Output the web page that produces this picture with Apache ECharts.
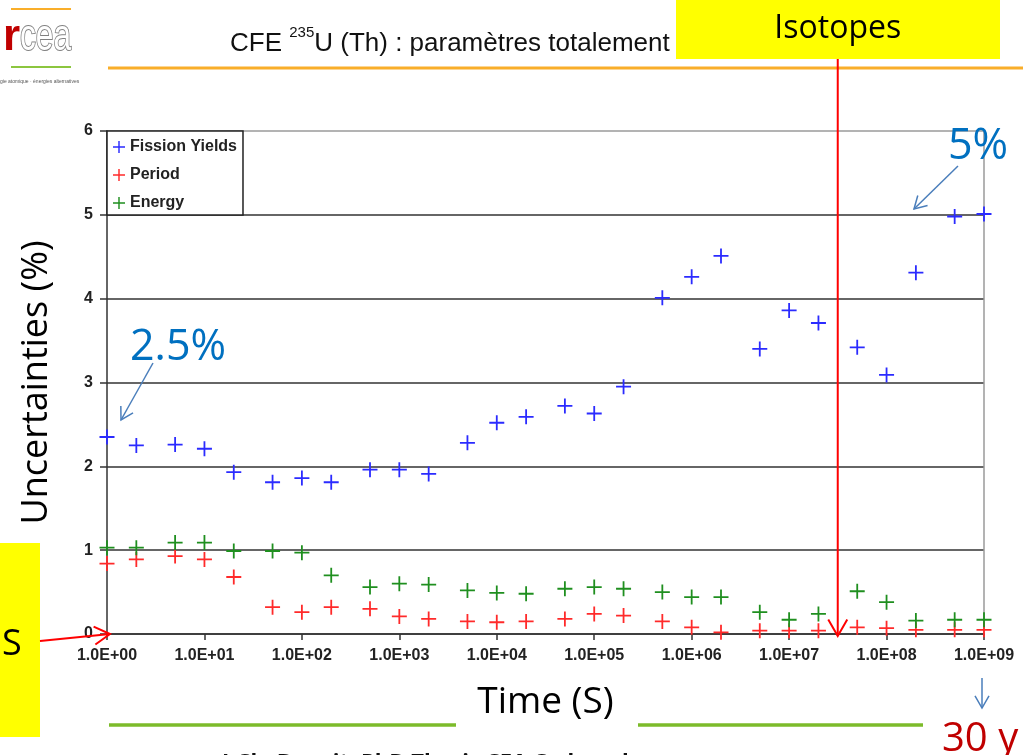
<!DOCTYPE html>
<html>
<head>
<meta charset="utf-8">
<script src="https://cdn.jsdelivr.net/npm/echarts@6/dist/echarts.min.js"></script>
<style>
  html, body { margin: 0; padding: 0; background: #fff; }
  #main { width: 1025px; height: 755px; }
</style>
</head>
<body>
<div id="main"></div>
<script>
// Decay times (s): 1, 2, 5 steps per decade
const timesSeconds = [1, 2, 5, 10, 20, 50, 100, 200, 500, 1e3, 2e3, 5e3, 1e4, 2e4, 5e4,
  1e5, 2e5, 5e5, 1e6, 2e6, 5e6, 1e7, 2e7, 5e7, 1e8, 2e8, 5e8, 1e9];

// Uncertainties (%) per contribution
const fissionYields = [2.35, 2.25, 2.26, 2.21, 1.93, 1.81, 1.86, 1.81, 1.96, 1.96, 1.91, 2.28, 2.52, 2.59, 2.72,
  2.63, 2.95, 4.01, 4.26, 4.51, 3.40, 3.86, 3.71, 3.42, 3.09, 4.31, 4.98, 5.01];
const period = [0.84, 0.89, 0.93, 0.89, 0.68, 0.32, 0.26, 0.32, 0.30, 0.21, 0.18, 0.15, 0.14, 0.15, 0.18,
  0.24, 0.22, 0.15, 0.08, 0.02, 0.04, 0.04, 0.04, 0.08, 0.07, 0.05, 0.05, 0.05];
const energy = [1.03, 1.03, 1.09, 1.09, 0.99, 0.99, 0.97, 0.70, 0.56, 0.60, 0.59, 0.52, 0.49, 0.48, 0.54,
  0.56, 0.54, 0.50, 0.44, 0.44, 0.26, 0.17, 0.24, 0.51, 0.38, 0.16, 0.17, 0.17];

const seriesNames = ['Fission Yields', 'Period', 'Energy'];
const seriesColors = ['#2b2bff', '#ff2a2a', '#1f8f1f'];
const ONE_YEAR_S = 3.156e7;

const PLUS = 'path://M8.8,0h2.4v8.8h8.8v2.4h-8.8v8.8h-2.4v-8.8h-8.8v-2.4h8.8z';
const AXIS_FONT = '"Liberation Sans", Arial, sans-serif';
const SLIDE_FONT = '"Open Sans", sans-serif';

const chart = echarts.init(document.getElementById('main'), null, { renderer: 'canvas' });
const pairs = vals => timesSeconds.map((t, i) => [t, vals[i]]);
const expLabel = v => '1.0E+' + String(Math.round(Math.log10(v))).padStart(2, '0');

chart.setOption({
  animation: false,
  backgroundColor: '#fff',
  grid: { left: 107, right: 41, top: 131, bottom: 121 },
  legend: {
    orient: 'vertical', left: 107, top: 131,
    icon: PLUS, itemWidth: 12, itemHeight: 12, itemGap: 12,
    padding: [8, 6, 4, 6],
    borderColor: '#222', borderWidth: 1.5, backgroundColor: '#fff',
    textStyle: { fontFamily: AXIS_FONT, fontWeight: 'bold', fontSize: 16, lineHeight: 16, color: '#222' },
    data: seriesNames
  },
  xAxis: {
    type: 'log', logBase: 10, min: 1, max: 1e9,
    name: 'Time (S)', nameLocation: 'middle', nameGap: 50,
    nameTextStyle: { fontFamily: SLIDE_FONT, fontSize: 37, color: '#000' },
    axisLine: { lineStyle: { color: '#333', width: 1.5 } },
    axisTick: { length: 6, lineStyle: { color: '#333', width: 1.5 } },
    minorTick: { show: false },
    axisLabel: { formatter: expLabel, fontFamily: AXIS_FONT, fontWeight: 'bold', fontSize: 16, color: '#222', margin: 14 },
    splitLine: { show: false }
  },
  yAxis: [{
    type: 'value', min: 0, max: 6, interval: 1,
    name: 'Uncertainties (%)', nameLocation: 'middle', nameGap: 52, nameRotate: 90,
    nameTextStyle: { fontFamily: SLIDE_FONT, fontSize: 36, color: '#000' },
    axisLine: { show: true, lineStyle: { color: '#333', width: 1.5 } },
    axisTick: { show: true, length: 7, lineStyle: { color: '#333', width: 1.5 } },
    axisLabel: { fontFamily: AXIS_FONT, fontWeight: 'bold', fontSize: 16, color: '#222', margin: 14 },
    splitLine: { show: true, lineStyle: { color: ['#333', '#333', '#333', '#333', '#333', '#333', '#9a9a9a'], width: 1.5 } }
  }, {
    type: 'value', position: 'right', min: 0, max: 6, interval: 1,
    axisLine: { show: true, lineStyle: { color: '#9a9a9a', width: 1.5 } },
    axisTick: { show: false }, axisLabel: { show: false }, splitLine: { show: false }
  }],
  series: [fissionYields, period, energy].map((vals, i) => ({
    name: seriesNames[i], type: 'scatter', yAxisIndex: 0,
    data: pairs(vals), symbol: PLUS, symbolSize: 15,
    itemStyle: { color: seriesColors[i], opacity: 1 },
    z: 3
  }))
});

// Slide decorations: logo, title bar, call-outs and arrows
function arrowHead(x1, y1, x2, y2, len, spread) {
  const a = Math.atan2(y2 - y1, x2 - x1);
  return [
    [x2 - len * Math.cos(a - spread), y2 - len * Math.sin(a - spread)],
    [x2, y2],
    [x2 - len * Math.cos(a + spread), y2 - len * Math.sin(a + spread)]
  ];
}
function arrow(x1, y1, x2, y2, color, width, len) {
  return [
    { type: 'line', z: 100, shape: { x1, y1, x2, y2 }, style: { stroke: color, lineWidth: width } },
    { type: 'polyline', z: 100, shape: { points: arrowHead(x1, y1, x2, y2, len, Math.PI / 6) },
      style: { stroke: color, lineWidth: width, fill: null } }
  ];
}
function text(x, y, str, font, color, align) {
  return { type: 'text', z: 100, x, y, style: {
    text: str, font, fill: color, textAlign: align || 'left', align: align || 'left',
    textVerticalAlign: 'middle', verticalAlign: 'middle' } };
}
function hline(x1, x2, y, color, width) {
  return { type: 'line', z: 99, shape: { x1, y1: y, x2, y2: y }, style: { stroke: color, lineWidth: width } };
}

const yearX = chart.convertToPixel({ xAxisIndex: 0 }, ONE_YEAR_S);
const lastX = chart.convertToPixel({ xAxisIndex: 0 }, timesSeconds[timesSeconds.length - 1]);
const zeroY = chart.convertToPixel({ yAxisIndex: 0 }, 0);
const firstX = chart.convertToPixel({ xAxisIndex: 0 }, timesSeconds[0]);

const ARROW_BLUE = '#4a7ebb';
const CALLOUT_BLUE = '#0070c0';

const elements = [
  // logo
  hline(11, 71, 9, '#f9ae2a', 2),
  hline(11, 71, 67, '#8cc63f', 2),
  { type: 'text', z: 100, x: 3, y: 60, style: {
      text: 'r', fontFamily: AXIS_FONT, fontWeight: 'bold', fontSize: 44, fill: '#c00000',
      textAlign: 'left', align: 'left', textVerticalAlign: 'bottom', verticalAlign: 'bottom' } },
  { type: 'text', z: 100, x: 20, y: 60, scaleX: 0.72, style: {
      text: 'cea', fontFamily: AXIS_FONT, fontSize: 44, fill: '#ffffff', stroke: '#808080', lineWidth: 2,
      textAlign: 'left', align: 'left', textVerticalAlign: 'bottom', verticalAlign: 'bottom' } },
  text(0, 82, 'gie atomique · énergies alternatives', 'normal 5px "Liberation Sans", Arial', '#555'),
  // title
  { type: 'text', z: 100, x: 230, y: 25, style: {
      text: '{a|CFE }{s|235}{a|U (Th) : paramètres totalement}',
      textVerticalAlign: 'top', verticalAlign: 'top',
      rich: {
        a: { fontFamily: AXIS_FONT, fontSize: 26, lineHeight: 38, fill: '#111', color: '#111' },
        s: { fontFamily: AXIS_FONT, fontSize: 15, lineHeight: 16, verticalAlign: 'top', fill: '#111', color: '#111' }
      } } },
  hline(108, 1023, 68, '#f9ae2a', 3),
  // Isotopes box and 1-year arrow
  { type: 'rect', z: 98, shape: { x: 676, y: -2, width: 324, height: 61 }, style: { fill: '#ffff00' } },
  text(yearX, 29, 'Isotopes', 'normal 32px "Open Sans", sans-serif', '#000', 'center'),
  ...arrow(yearX, 59, yearX, zeroY + 2, '#ff0000', 2, 19),
  // left box
  { type: 'rect', z: 98, shape: { x: 0, y: 543, width: 40, height: 194 }, style: { fill: '#ffff00' } },
  text(2, 645, 'S', 'normal 36px "Open Sans", sans-serif', '#000'),
  ...arrow(40, 641, firstX + 3, zeroY, '#ff0000', 2, 18),
  // call-outs
  text(130, 348, '2.5%', 'normal 43px "Open Sans", sans-serif', CALLOUT_BLUE),
  ...arrow(153, 363, 121, 420, ARROW_BLUE, 1.5, 14),
  text(948, 147, '5%', 'normal 43px "Open Sans", sans-serif', CALLOUT_BLUE),
  ...arrow(958, 166, 914, 209, ARROW_BLUE, 1.5, 14),
  ...arrow(lastX - 2, 678, lastX - 2, 708, ARROW_BLUE, 1.5, 14),
  text(942, 740, '30 y', 'normal 40px "Open Sans", sans-serif', '#c00000'),
  // footer
  hline(109, 456, 725, '#7cbb2a', 3.5),
  hline(638, 923, 725, '#7cbb2a', 3.5),
  text(222, 763, 'J-Ch. Benoit, PhD Thesis CEA Cadarache', 'bold 22px "Open Sans", sans-serif', '#111')
];

chart.setOption({ graphic: { elements } });
</script>
</body>
</html>
